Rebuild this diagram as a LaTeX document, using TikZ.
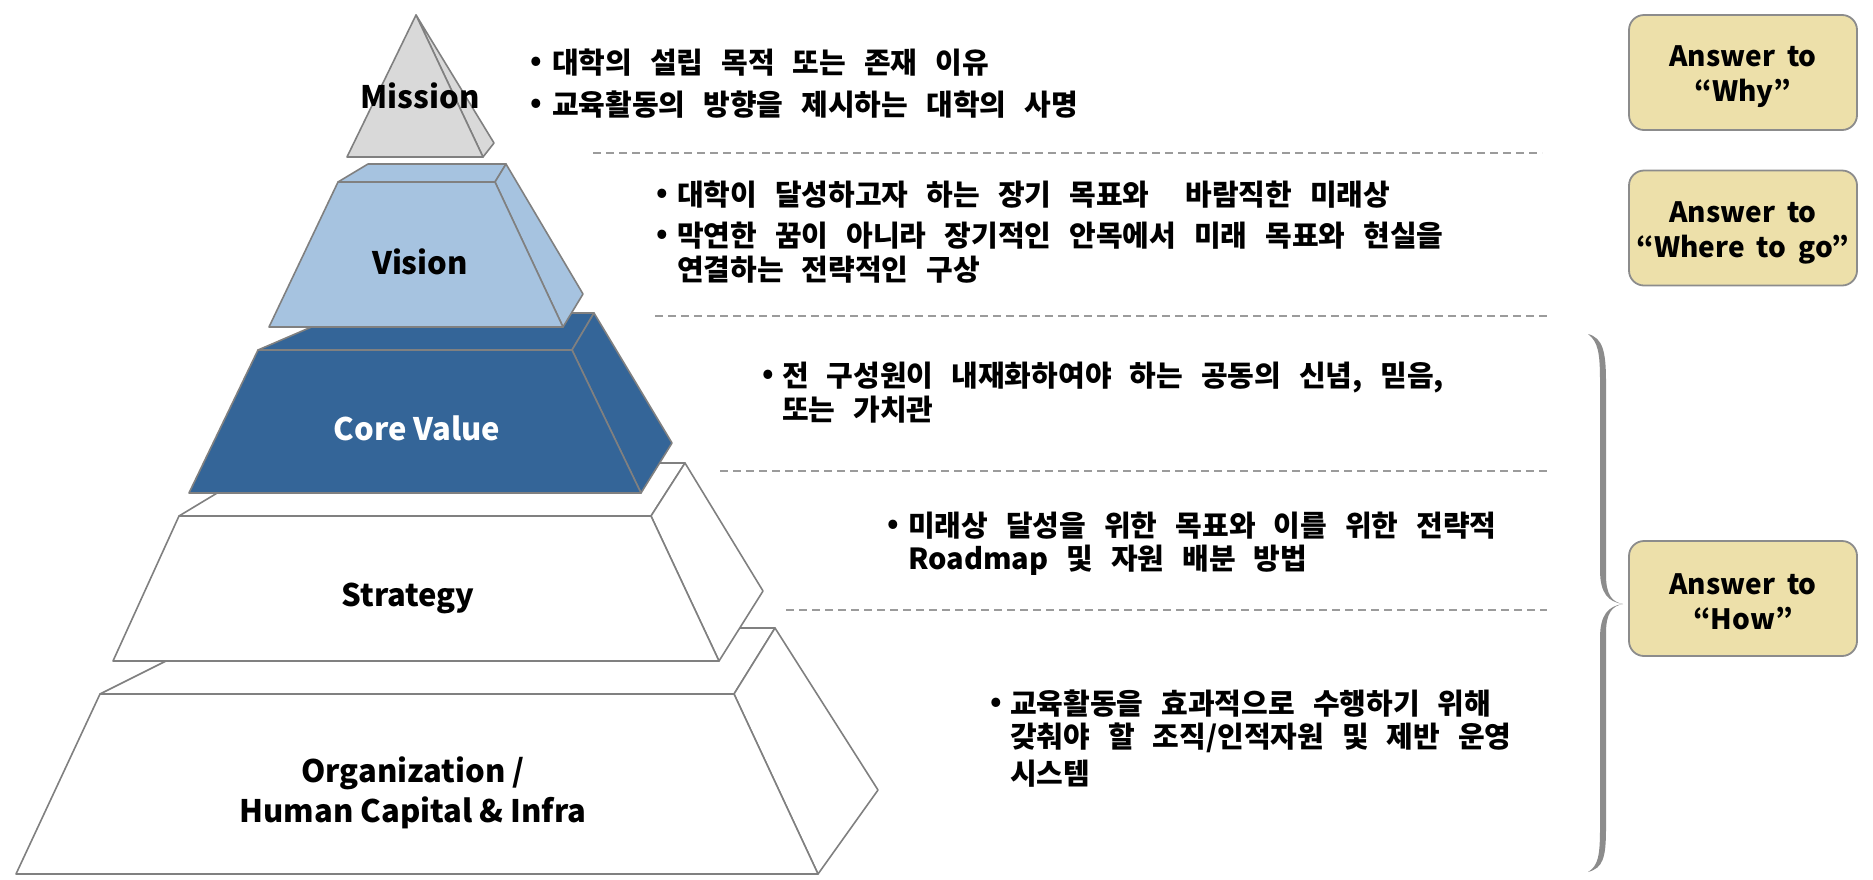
\documentclass[tikz,border=0pt]{standalone}
\usepackage{fontspec}
\setmainfont{Noto Sans CJK KR}
\definecolor{edgegray}{RGB}{128,128,128}
\definecolor{dashgray}{RGB}{155,155,155}
\definecolor{bracegray}{RGB}{140,140,140}
\definecolor{missionfill}{RGB}{217,217,217}
\definecolor{visionfill}{RGB}{166,195,224}
\definecolor{corefill}{RGB}{52,101,152}
\definecolor{ansfill}{RGB}{237,224,170}
\definecolor{ansedge}{RGB}{140,140,140}
\newcommand{\kt}{\fontsize{29}{35}\selectfont\bfseries\spaceskip=18pt plus 1pt minus 1pt\relax}
\newcommand{\lf}{\fontsize{31}{40}\selectfont\bfseries}
\newcommand{\af}{\fontsize{28}{35}\selectfont\bfseries\spaceskip=12pt\relax}
\tikzset{
  face/.style={draw=edgegray, line width=1.6pt, line join=round},
  lbl/.style={font=\lf, align=center, inner sep=0pt},
  txt/.style={font=\kt, anchor=base west, inner sep=0pt},
  bul/.style={font=\kt, anchor=center, inner sep=0pt},
  dline/.style={draw=dashgray, line width=2pt, dash pattern=on 8pt off 5pt},
  ansbox/.style={draw=ansedge, fill=ansfill, rounded corners=15pt, line width=1.8pt,
    minimum width=228pt, minimum height=115pt, inner sep=0pt},
  anstext/.style={align=center, font=\af, inner sep=0pt},
}
\begin{document}
\begin{tikzpicture}[x=1pt,y=-1pt]
\useasboundingbox (0,0) rectangle (1873,879);
\fill[white] (0,0) rectangle (1873,879);

% ---- Organization
\path[face,fill=white] (100,694) -- (232,628) -- (775,628) -- (734,694) -- cycle;
\path[face,fill=white] (734,694) -- (775,628) -- (878,790) -- (818,874) -- cycle;
\path[face,fill=white] (100,694) -- (734,694) -- (818,874) -- (16,874) -- cycle;
\node[lbl] (org) at (413,793) {Organization /\\Human Capital \& Infra};

% ---- Strategy
\path[face,fill=white] (179,516) -- (267,463) -- (685,463) -- (651,516) -- cycle;
\path[face,fill=white] (651,516) -- (685,463) -- (763,591) -- (719,661) -- cycle;
\path[face,fill=white] (179,516) -- (651,516) -- (719,661) -- (113,661) -- cycle;
\node[lbl] (str) at (408,598) {Strategy};

% ---- Core Value
\path[face,fill=corefill] (258,350) -- (344,313) -- (594,313) -- (572,350) -- cycle;
\path[face,fill=corefill] (572,350) -- (594,313) -- (672,443) -- (641,493) -- cycle;
\path[face,fill=corefill] (258,350) -- (572,350) -- (641,493) -- (189,493) -- cycle;
\node[lbl,text=white] (core) at (417,428) {Core Value};

% ---- Vision
\path[face,fill=visionfill] (338,182) -- (368,164) -- (506,164) -- (495,182) -- cycle;
\path[face,fill=visionfill] (495,182) -- (506,164) -- (583,294) -- (563,327) -- cycle;
\path[face,fill=visionfill] (338,182) -- (495,182) -- (563,327) -- (269,327) -- cycle;
\node[lbl] (vis) at (420,262) {Vision};

% ---- Mission
\path[face,fill=missionfill] (416,15) -- (494,143) -- (483,157) -- cycle;
\path[face,fill=missionfill] (416,15) -- (483,157) -- (347,157) -- cycle;
\node[lbl] (mis) at (420,96) {Mission};

% ---- dashed separators
\draw[dline] (593,153) -- (1542,153);
\draw[dline] (655,316) -- (1547,316);
\draw[dline] (720,471) -- (1547,471);
\draw[dline] (786,610) -- (1547,610);

% ---- descriptions
\node[bul] (mb1) at (536,64) {•};
\node[txt] (mt1) at (552,73) {대학의 설립 목적 또는 존재 이유};
\node[bul] (mb2) at (536,106) {•};
\node[txt] (mt2) at (552,115) {교육활동의 방향을 제시하는 대학의 사명};

\node[bul] (vb1) at (662,196) {•};
\node[txt] (vt1) at (677,205) {대학이 달성하고자 하는 장기 목표와\hspace{18pt} 바람직한 미래상};
\node[bul] (vb2) at (662,237) {•};
\node[txt] (vt2) at (677,246) {막연한 꿈이 아니라 장기적인 안목에서 미래 목표와 현실을};
\node[txt] (vt3) at (677,280) {연결하는 전략적인 구상};

\node[bul] (cb1) at (768,377) {•};
\node[txt] (ct1) at (782,386) {전 구성원이 내재화하여야 하는 공동의 신념, 믿음,};
\node[txt] (ct2) at (782,420) {또는 가치관};

\node[bul] (sb1) at (893,527) {•};
\node[txt] (st1) at (908,536) {미래상 달성을 위한 목표와 이를 위한 전략적};
\node[txt] (st2) at (908,569) {Roadmap 및 자원 배분 방법};

\node[bul] (ob1) at (996,705) {•};
\node[txt] (ot1) at (1010,714) {교육활동을 효과적으로 수행하기 위해};
\node[txt] (ot2) at (1010,747) {갖춰야 할 조직/인적자원 및 제반 운영};
\node[txt] (ot3) at (1010,784) {시스템};

% ---- brace
\fill[bracegray] (1588,334) .. controls (1603,338) and (1606,352) .. (1606,382)
  -- (1606,575) .. controls (1606,595) and (1612,602) .. (1623,604)
  .. controls (1612,606) and (1606,613) .. (1606,633)
  -- (1606,828) .. controls (1606,858) and (1603,868) .. (1588,872)
  .. controls (1598,866) and (1600,856) .. (1600,828)
  -- (1600,638) .. controls (1600,615) and (1608,606) .. (1623,604)
  .. controls (1608,602) and (1600,593) .. (1600,570)
  -- (1600,382) .. controls (1600,352) and (1598,342) .. (1588,334) -- cycle;

% ---- answer boxes
\node[ansbox] (why) at (1743,72.5) {};
\node[anstext] (whyt) at ([yshift=-4pt]why.center) {Answer to\\“Why”};
\node[ansbox] (where) at (1743,228) {};
\node[anstext] (wheret) at ([yshift=-5pt]where.center) {Answer to\\“Where to go”};
\node[ansbox] (how) at (1743,598.5) {};
\node[anstext] (howt) at ([yshift=-3pt]how.center) {Answer to\\“How”};
\end{tikzpicture}
\end{document}
